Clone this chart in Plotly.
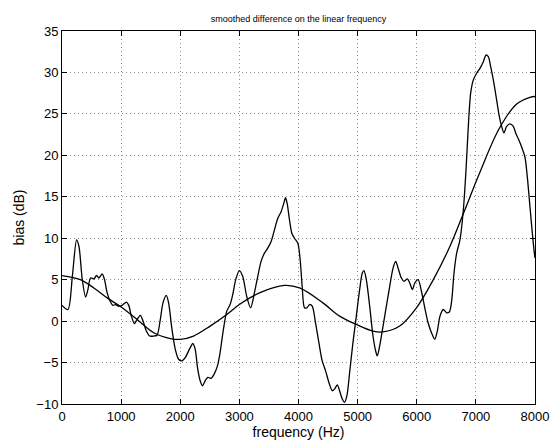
import plotly.graph_objects as go

# jagged (smoothed difference) curve
freq_raw = [0, 100, 175, 247, 287, 343, 400, 438, 483, 540, 584, 624, 680, 719, 764, 820, 860, 904, 960,
            1017, 1090, 1129, 1174, 1225, 1270, 1326, 1371, 1427, 1483, 1551, 1607, 1663, 1708, 1764, 1803,
            1860, 1916, 1972, 2028, 2084, 2169, 2213, 2253, 2292, 2337, 2376, 2421, 2466, 2522, 2573, 2629,
            2674, 2730, 2787, 2843, 2888, 2938, 3000, 3056, 3124, 3190, 3254, 3311, 3367, 3424, 3480, 3537,
            3593, 3650, 3706, 3751, 3780, 3808, 3848, 3887, 3932, 3989, 4028, 4062, 4102, 4141, 4187, 4232,
            4288, 4345, 4401, 4458, 4514, 4571, 4610, 4655, 4695, 4740, 4780, 4819, 4865, 4921, 4978, 5034,
            5079, 5108, 5147, 5204, 5260, 5305, 5333, 5373, 5430, 5486, 5543, 5599, 5644, 5684, 5740, 5786,
            5842, 5882, 5927, 5967, 6023, 6079, 6136, 6192, 6249, 6305, 6348, 6393, 6449, 6506, 6551, 6590,
            6630, 6675, 6731, 6788, 6833, 6872, 6912, 6957, 7013, 7069, 7126, 7171, 7210, 7250, 7295, 7351,
            7396, 7436, 7475, 7520, 7577, 7633, 7678, 7718, 7774, 7830, 7870, 7915, 7955, 7983, 8000]
bias_raw = [1.9, 1.4, 5.4, 9.8, 9.0, 5.0, 2.9, 3.8, 5.2, 5.1, 5.5, 5.2, 5.7, 5.0, 3.4, 2.3, 1.9, 2.0, 1.8,
            1.9, 2.3, 1.9, 0.6, -0.3, 0.2, 0.7, 0.0, -1.2, -1.8, -1.8, -1.7, 0.2, 2.2, 3.1, 2.2,
            -1.0, -3.4, -4.6, -4.8, -4.4, -3.2, -2.7, -3.4, -5.6, -7.2, -7.8, -7.2, -6.8, -6.9, -6.4, -5.4,
            -3.8, -1.0, 1.2, 2.0, 3.2, 5.0, 6.1, 5.4, 3.0, 1.6, 3.4, 5.4, 7.2, 8.2, 8.8, 9.6,
            11.0, 12.4, 13.2, 14.2, 14.9, 14.2, 12.2, 10.6, 10.0, 9.4, 7.4, 4.2, 1.6, 1.6, 2.0, 1.8,
            -0.2, -2.6, -4.8, -6.0, -7.4, -8.4, -8.2, -7.7, -8.4, -9.4, -9.8, -9.0, -6.2, -2.6, 0.6, 3.8,
            5.8, 6.1, 5.0, 1.8, -1.8, -3.6, -4.2, -3.0, -0.6, 1.8, 4.2, 6.4, 7.2, 6.4, 5.2, 4.8,
            5.1, 4.6, 3.8, 4.6, 5.0, 3.6, 1.6, -0.2, -1.4, -2.2, -1.2, 0.6, 1.4, 1.0, 1.1, 2.4,
            5.8, 8.2, 9.8, 13.4, 18.2, 23.5, 27.5, 29.1, 29.9, 30.5, 31.3, 32.1, 31.9, 30.7, 29.1, 26.7,
            24.7, 23.5, 22.7, 23.5, 23.8, 23.5, 22.6, 22.0, 21.0, 19.8, 17.4, 13.8, 10.6, 8.6, 7.6]

# smooth trend curve
freq_fit = [0, 309, 539, 764, 1000, 1270, 1551, 1831, 2000, 2225, 2506, 2787, 3000, 3339, 3763, 4017,
            4413, 4695, 4978, 5260, 5430, 5712, 5995, 6280, 6560, 6790, 7070, 7400, 7690, 7915, 8000]
bias_fit = [5.5, 5.0, 4.0, 2.8, 1.7, 0.2, -1.4, -2.1, -2.2, -1.8, -0.6, 0.8, 2.0, 3.4, 4.3, 4.0,
            2.2, 0.6, -0.4, -1.2, -1.3, -0.6, 1.6, 5.0, 9.0, 13.0, 18.0, 23.3, 26.2, 27.0, 27.1]

x_ticks = [0, 1000, 2000, 3000, 4000, 5000, 6000, 7000, 8000]
y_ticks = [-10, -5, 0, 5, 10, 15, 20, 25, 30, 35]

FONT = "Liberation Sans, Arial, Helvetica, sans-serif"

fig = go.Figure()
fig.add_trace(go.Scatter(x=freq_raw, y=bias_raw, mode="lines",
                         line=dict(color="black", width=1.3, shape="spline", smoothing=0.8),
                         showlegend=False))
fig.add_trace(go.Scatter(x=freq_fit, y=bias_fit, mode="lines",
                         line=dict(color="black", width=1.3, shape="spline", smoothing=1.0),
                         showlegend=False))

axis_common = dict(showline=True, linecolor="black", linewidth=1, mirror="allticks",
                   ticks="inside", ticklen=5, tickcolor="black", tickwidth=1,
                   showgrid=True, gridcolor="#8c8c8c", griddash="1px,3px", gridwidth=1,
                   zeroline=False, automargin=False,
                   tickfont=dict(family=FONT, size=13, color="black"))

fig.update_xaxes(range=[0, 8000], tickvals=x_ticks, ticktext=[str(v) for v in x_ticks],
                 title=dict(text="frequency (Hz)", font=dict(family=FONT, size=14, color="black"), standoff=2),
                 **axis_common)
fig.update_yaxes(range=[-10, 35], tickvals=y_ticks,
                 ticktext=[("\u2212" + str(-v)) if v < 0 else str(v) for v in y_ticks],
                 title=dict(text="bias (dB)", font=dict(family=FONT, size=14, color="black"), standoff=8),
                 **axis_common)

fig.update_layout(
    width=553, height=442,
    margin=dict(l=62, r=18, t=31, b=38, autoexpand=False),
    paper_bgcolor="white", plot_bgcolor="white",
    title=dict(text="smoothed difference on the linear frequency", x=0.5, xanchor="center",
               xref="paper", y=1, yref="paper", yanchor="bottom", pad=dict(b=9),
               font=dict(family=FONT, size=9, color="black")),
)

fig.write_html("out.html")
